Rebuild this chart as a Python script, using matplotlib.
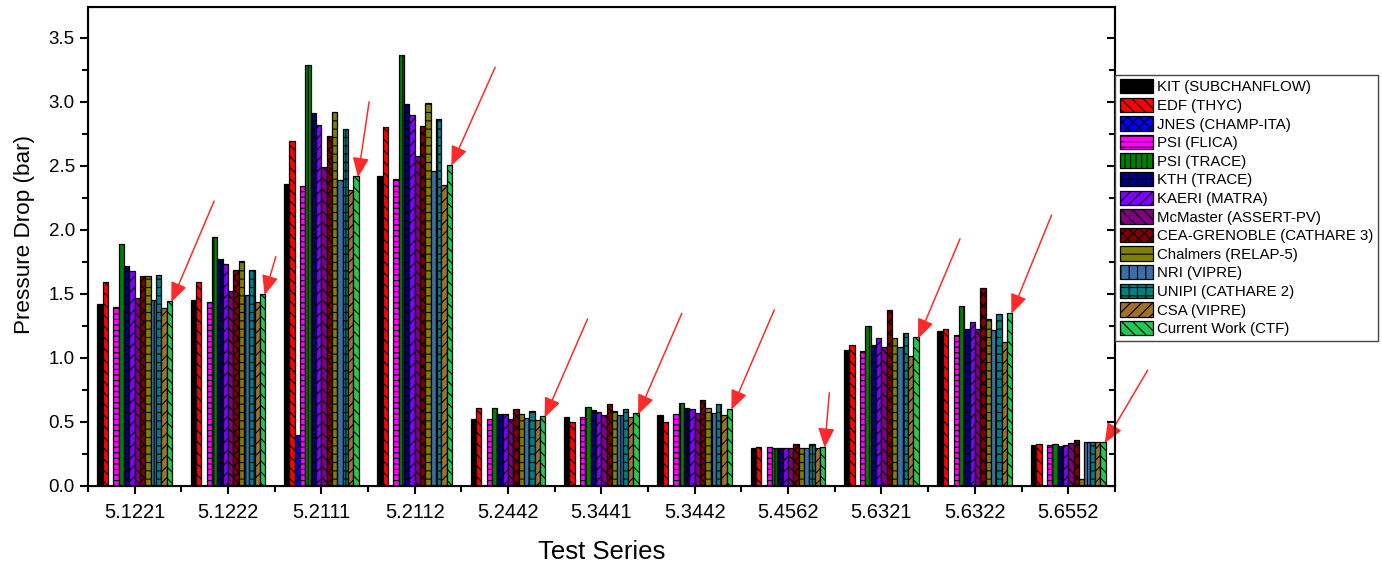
import numpy as np
import matplotlib.pyplot as plt
from matplotlib.ticker import MultipleLocator

plt.rcParams['font.family'] = ['Liberation Sans', 'DejaVu Sans']
plt.rcParams['hatch.linewidth'] = 0.8

tests = ["5.1221", "5.1222", "5.2111", "5.2112", "5.2442", "5.3441",
         "5.3442", "5.4562", "5.6321", "5.6322", "5.6552"]

codes = ["KIT (SUBCHANFLOW)", "EDF (THYC)", "JNES (CHAMP-ITA)", "PSI (FLICA)",
         "PSI (TRACE)", "KTH (TRACE)", "KAERI (MATRA)", "McMaster (ASSERT-PV)",
         "CEA-GRENOBLE (CATHARE 3)", "Chalmers (RELAP-5)", "NRI (VIPRE)",
         "UNIPI (CATHARE 2)", "CSA (VIPRE)", "Current Work (CTF)"]

nan = np.nan
kit      = [1.42, 1.455, 2.36, 2.42, 0.526, 0.536, 0.555, 0.294, 1.065, 1.211, 0.318]
edf      = [1.59, 1.59, 2.69, 2.80, 0.607, 0.497, 0.497, 0.307, 1.099, 1.224, 0.326]
jnes     = [nan, nan, 0.396, nan, nan, nan, nan, nan, nan, nan, nan]
psi_fl   = [1.40, 1.44, 2.34, 2.40, 0.526, 0.542, 0.562, 0.307, 1.05, 1.18, 0.318]
psi_tr   = [1.89, 1.945, 3.29, 3.365, 0.607, 0.615, 0.651, 0.294, 1.25, 1.406, 0.326]
kth      = [1.72, 1.77, 2.91, 2.98, 0.562, 0.596, 0.607, 0.294, 1.10, 1.229, 0.31]
kaeri    = [1.68, 1.73, 2.82, 2.90, 0.562, 0.578, 0.599, 0.294, 1.154, 1.281, 0.318]
mcmaster = [1.47, 1.52, 2.49, 2.58, 0.526, 0.552, 0.57, 0.294, 1.086, 1.227, 0.336]
cea      = [1.64, 1.69, 2.73, 2.81, 0.599, 0.64, 0.669, 0.326, 1.37, 1.544, 0.359]
chalmers = [1.64, 1.76, 2.92, 2.99, 0.565, 0.583, 0.607, 0.294, 1.154, 1.30, 0.055]
nri      = [1.45, 1.49, 2.39, 2.46, 0.534, 0.555, 0.57, 0.294, 1.088, 1.219, 0.344]
unipi    = [1.65, 1.69, 2.79, 2.865, 0.586, 0.599, 0.64, 0.326, 1.198, 1.344, 0.344]
csa      = [1.39, 1.44, 2.31, 2.35, 0.516, 0.542, 0.552, 0.294, 1.016, 1.125, 0.344]
ctf      = [1.445, 1.50, 2.42, 2.51, 0.544, 0.568, 0.604, 0.307, 1.16, 1.354, 0.344]

series = [kit, edf, jnes, psi_fl, psi_tr, kth, kaeri, mcmaster,
          cea, chalmers, nri, unipi, csa, ctf]

colors = ["#000000", "#ff0000", "#0000ff", "#ff00ff", "#008000", "#000080",
          "#8000ff", "#800080", "#800000", "#808000", "#3a6ea8", "#008080",
          "#a0702c", "#22c850"]
hatches = ["", "\\\\\\", "xxx", "---", "|||", "++", "///", "\\\\\\",
           "xxx", "--", "||", "++", "///", "\\\\\\"]

# arrow tails relative to the CTF bar tops (data units)
arrow_dx = [0.46, 0.12, 0.12, 0.47, 0.46, 0.47, 0.46, 0.05, 0.45, 0.43, 0.46]
arrow_dy = [0.79, 0.30, 0.59, 0.77, 0.77, 0.79, 0.78, 0.43, 0.78, 0.77, 0.57]

fig = plt.figure(figsize=(13.82, 5.65), dpi=100)
ax = fig.add_axes([0.0637, 0.140, 0.743, 0.8475])

x = np.arange(1, len(tests) + 1)
n = len(series)
w = 0.8 / n
for i, vals in enumerate(series):
    ax.bar(x + (i - (n - 1) / 2) * w, vals, width=w, color=colors[i],
           hatch=hatches[i], edgecolor="black", linewidth=0.9, label=codes[i])

# arrows pointing at the CTF results
xc = x + (n - 1) / 2 * w
for j in range(len(tests)):
    tip = (xc[j] + 0.02, ctf[j] - 0.01)
    ax.annotate("", xy=tip, xytext=(tip[0] + arrow_dx[j], tip[1] + arrow_dy[j]),
                arrowprops=dict(arrowstyle="-|>,head_length=0.6,head_width=0.25",
                                color="#ff2a2a", lw=1.1, mutation_scale=20,
                                shrinkA=0, shrinkB=0))

ax.set_xlim(0.5, 11.5)
ax.set_ylim(0, 3.74)
ax.set_xticks(x)
ax.set_xticklabels(tests, fontsize=14.5)
ax.xaxis.set_minor_locator(MultipleLocator(1, offset=0.5))
ax.yaxis.set_major_locator(MultipleLocator(0.5))
ax.yaxis.set_minor_locator(MultipleLocator(0.25))
ax.tick_params(axis="y", labelsize=13.5)
ax.tick_params(axis="x", pad=6)
ax.yaxis.set_major_formatter(plt.FormatStrFormatter("%.1f"))
ax.tick_params(which="major", length=6, width=1.5)
ax.tick_params(which="minor", length=4, width=1.5)
for s in ax.spines.values():
    s.set_linewidth(1.5)

# mirrored y ticks pointing inward on the right spine
ax2 = ax.twinx()
ax2.set_ylim(ax.get_ylim())
ax2.yaxis.set_major_locator(MultipleLocator(0.5))
ax2.yaxis.set_minor_locator(MultipleLocator(0.25))
ax2.tick_params(which="both", direction="in", labelright=False, width=1.5)
ax2.tick_params(which="major", length=6)
ax2.tick_params(which="minor", length=4)
ax2.spines["right"].set_linewidth(1.5)

ax.set_xlabel("Test Series", fontsize=18.5, labelpad=13)
ax.set_ylabel("Pressure Drop (bar)", fontsize=16.2)
ax.yaxis.set_label_coords(-0.052, 0.526)

fig.legend(handles=ax.get_legend_handles_labels()[0], loc="upper left",
           bbox_to_anchor=(0.807, 0.868), fontsize=10.8,
           handlelength=2.2, handleheight=1.1, labelspacing=0.22,
           handletextpad=0.3, borderpad=0.3, borderaxespad=0,
           fancybox=False, framealpha=1, edgecolor="#444444")

fig.savefig("out.png", dpi=100)
